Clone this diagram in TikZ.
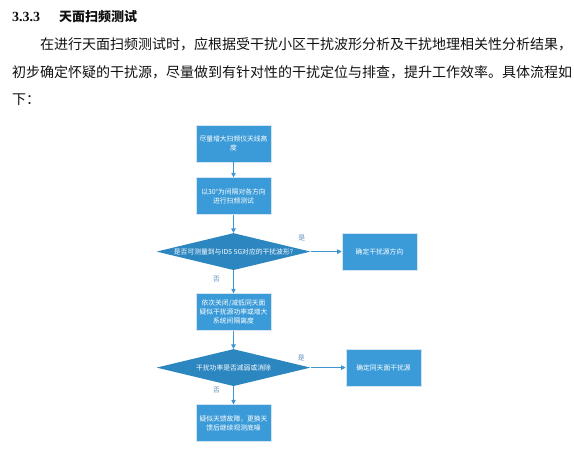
\documentclass[tikz,border=0pt]{standalone}
\usepackage{fontspec}
\setmainfont{Liberation Serif}
\newfontfamily\cjk{Noto Sans CJK SC}
\usetikzlibrary{arrows.meta,positioning,shapes.geometric,calc}
\XeTeXlinebreaklocale "zh"
\XeTeXlinebreakskip=0pt plus 2pt
\definecolor{ink}{HTML}{111111}
\definecolor{boxc}{HTML}{3B9BD8}
\definecolor{testc}{HTML}{2C86C0}
\definecolor{edgec}{HTML}{D3E3EF}
\definecolor{linec}{HTML}{3E95D1}
\definecolor{lblc}{HTML}{5E8DBA}
\tikzset{
  stepbox/.style={draw=edgec,fill=boxc,minimum width=75pt,minimum height=37pt,inner sep=1pt,
    align=center,font=\cjk\fontsize{6.8}{9}\selectfont,text=white,line width=0.6pt},
  test/.style={diamond,fill=testc,aspect=4.16,minimum width=154pt,minimum height=37pt,
    inner sep=0pt,align=center,font=\cjk\fontsize{6.8}{9}\selectfont,text=white},
  flow/.style={-{Triangle[length=4.5pt,width=4.5pt]},line width=0.7pt,color=linec},
  lbl/.style={font=\cjk\fontsize{6.8}{8}\selectfont,text=lblc,inner sep=0pt},
  body/.style={anchor=west,inner sep=0pt,font=\cjk\fontsize{14}{16}\selectfont,text=ink}
}
\begin{document}
\begin{tikzpicture}[x=1pt,y=1pt]
  \useasboundingbox (0,0) rectangle (574,-453);
  % heading and text
  \node[anchor=west,inner sep=0pt,font=\fontsize{14}{16}\selectfont\bfseries,text=ink] (num) at (12,-17) {3.3.3};
  \node[anchor=west,inner sep=0pt,font=\cjk\fontsize{13}{16}\selectfont\bfseries,text=ink] (title) at (59,-17) {天面扫频测试};
  \node[body] (t1) at (40,-44) {\makebox[523pt][s]{在进行天面扫频测试时，应根据受干扰小区干扰波形分析及干扰地理相关性分析结果，}};
  \node[body] (t2) at (12,-72) {\makebox[551pt][s]{初步确定怀疑的干扰源，尽量做到有针对性的干扰定位与排查，提升工作效率。具体流程如}};
  \node[body] (t3) at (12,-100) {下：};
  % flow chart
  \node[stepbox] (b1) at (233.5,-143.5) {尽量增大扫频仪天线高\\度};
  \node[stepbox,below=15pt of b1] (b2) {以30°为间隔对各方向\\进行扫频测试};
  \node[test,below=18pt of b2] (d1) {是否可测量到与IDS 5G对应的干扰波形?};
  \node[stepbox,right=31pt of d1] (r1) {确定干扰源方向};
  \node[stepbox,below=23pt of d1] (b3) {依次关闭/减低同天面\\疑似干扰源功率或增大\\系统间隔离度};
  \node[test,below=18pt of b3] (d2) {干扰功率是否减弱或消除};
  \node[stepbox,right=35pt of d2] (r2) {确定同天面干扰源};
  \node[stepbox,below=18pt of d2] (b4) {疑似天馈故障，更换天\\馈后继续观测底噪};
  \draw[flow] (b1) -- (b2);
  \draw[flow] (b2) -- (d1);
  \draw[flow] (d1) -- (r1);
  \draw[flow] (d1) -- (b3);
  \draw[flow] (b3) -- (d2);
  \draw[flow] (d2) -- (r2);
  \draw[flow] (d2) -- (b4);
  \node[lbl] (y1) at ($(d1.east)+(-9pt,13.5pt)$) {是};
  \node[lbl] (n1) at ($(d1.south)+(-17pt,-9pt)$) {否};
  \node[lbl] (y2) at ($(d2.east)+(-9.5pt,9.5pt)$) {是};
  \node[lbl] (n2) at ($(d2.south)+(-17pt,-4pt)$) {否};
\end{tikzpicture}
\end{document}
